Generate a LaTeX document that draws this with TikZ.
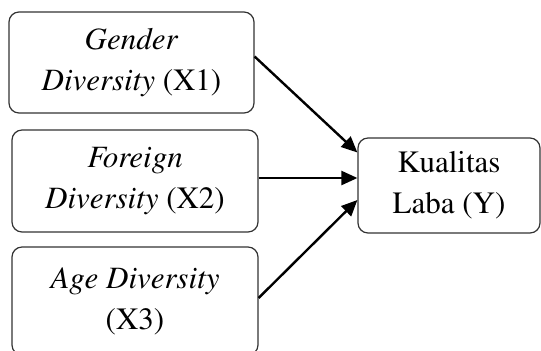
\documentclass[tikz,border=0pt]{standalone}
\usepackage[T1]{fontenc}
\renewcommand{\rmdefault}{ptm}
\usetikzlibrary{arrows.meta}
\tikzset{
    varbox/.style={draw=black!80, line width=0.6pt, rounded corners=5pt, align=center,
        font=\fontsize{15.5}{20.5}\selectfont, inner sep=0pt},
    link/.style={line width=1.2pt, -{Triangle[length=8pt,width=7pt]}}
}
\begin{document}
\begin{tikzpicture}[x=0.5pt, y=-0.5pt]
        \clip (0,0) rectangle (541,350);
        \node[varbox, minimum width=122.5pt, minimum height=50.5pt] (gender) at (131.5,62.5) {\textit{Gender}\\\textit{Diversity} (X1)};
        \node[varbox, minimum width=123pt, minimum height=51pt] (foreign) at (135,181) {\textit{Foreign}\\\textit{Diversity} (X2)};
        \node[varbox, minimum width=123pt, minimum height=54pt] (age) at (135,301) {\textit{Age Diversity}\\(X3)};
        \node[varbox, minimum width=91pt, minimum height=47.5pt] (laba) at (449,185.5) {Kualitas\\Laba (Y)};
        
        \draw[link] ([yshift=3pt]gender.east) -- ([yshift=16.5pt]laba.west);
        \draw[link] ([yshift=1.5pt]foreign.east) -- ([yshift=3.75pt]laba.west);
        \draw[link] ([yshift=1.5pt]age.east) -- ([yshift=-7.25pt]laba.west);
    \end{tikzpicture}
\end{document}
